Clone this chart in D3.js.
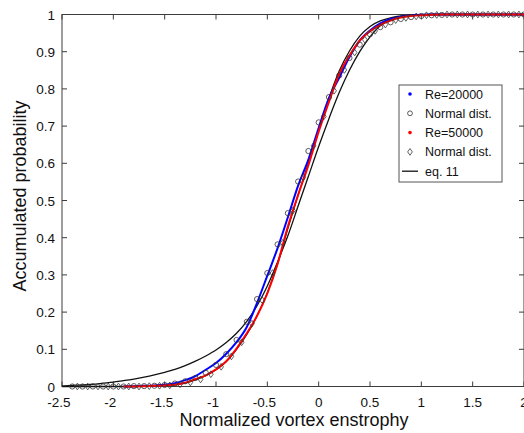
<!DOCTYPE html>
<html>
<head>
<meta charset="utf-8">
<script src="https://cdn.jsdelivr.net/npm/d3@7"></script>
<style>
  body { margin: 0; background: #fff; }
  svg { display: block; font-family: "Liberation Sans", Arial, sans-serif; }
</style>
</head>
<body>
<div id="chart"></div>
<script>
// axis ticks
var xTicks = [-2.5, -2, -1.5, -1, -0.5, 0, 0.5, 1, 1.5, 2];
var yTicks = [0, 0.1, 0.2, 0.3, 0.4, 0.5, 0.6, 0.7, 0.8, 0.9, 1];

// measured curves (Re=20000 blue, Re=50000 red)
var dataX = [-1.9, -1.8, -1.7, -1.6, -1.5, -1.4, -1.3, -1.2, -1.1, -1.0,
             -0.9, -0.8, -0.7, -0.6, -0.5, -0.4, -0.3, -0.2, -0.1, 0.0,
             0.1, 0.2, 0.3, 0.4, 0.5, 0.6, 0.7, 0.8, 0.9, 1.0,
             1.1, 1.2, 1.3, 1.4, 1.5, 1.6, 1.7, 1.8, 1.9, 2.0];
var re20000 = [0, 0.001, 0.002, 0.003, 0.005, 0.009, 0.017, 0.028, 0.045, 0.063,
               0.088, 0.119, 0.16, 0.225, 0.298, 0.372, 0.455, 0.54, 0.61, 0.695,
               0.775, 0.83, 0.886, 0.93, 0.957, 0.976, 0.988, 0.994, 0.997, 0.999,
               1, 1, 1, 1, 1, 1, 1, 1, 1, 1];
var re50000 = [0, 0, 0.001, 0.002, 0.003, 0.005, 0.01, 0.02, 0.03, 0.046,
               0.068, 0.102, 0.143, 0.19, 0.25, 0.33, 0.43, 0.515, 0.595, 0.685,
               0.765, 0.84, 0.89, 0.93, 0.955, 0.972, 0.984, 0.992, 0.996, 0.998,
               0.999, 1, 1, 1, 1, 1, 1, 1, 1, 1];

// normal distribution fits (circles for Re=20000, diamonds for Re=50000)
var circleX = [-2.4, -2.3, -2.2, -2.1, -2.0, -1.9, -1.8, -1.7, -1.6, -1.5,
               -1.4, -1.3, -1.2, -1.1, -1.0, -0.9, -0.8, -0.7, -0.6, -0.5,
               -0.4, -0.3, -0.2, -0.1, 0.0, 0.1, 0.2, 0.3, 0.4, 0.5,
               0.6, 0.7, 0.8, 0.9, 1.0, 1.1, 1.2, 1.3, 1.4, 1.5,
               1.6, 1.7, 1.8, 1.9, 2.0];
var circleY = [0, 0, 0, 0, 0, 0, 0.001, 0.001, 0.002, 0.004,
               0.008, 0.014, 0.023, 0.037, 0.058, 0.087, 0.125, 0.174, 0.235, 0.305,
               0.382, 0.466, 0.551, 0.633, 0.71, 0.778, 0.836, 0.883, 0.919, 0.947,
               0.966, 0.979, 0.988, 0.993, 0.996, 0.998, 0.999, 1, 1, 1,
               1, 1, 1, 1, 1];
var diamondX = [-2.35, -2.25, -2.15, -2.05, -1.95, -1.85, -1.75, -1.65, -1.55, -1.45,
                -1.35, -1.25, -1.15, -1.05, -0.95, -0.85, -0.75, -0.65, -0.55, -0.45,
                -0.35, -0.25, -0.15, -0.05, 0.05, 0.15, 0.25, 0.35, 0.45, 0.55,
                0.65, 0.75, 0.85, 0.95, 1.05, 1.15, 1.25, 1.35, 1.45, 1.55,
                1.65, 1.75, 1.85, 1.95];
var diamondY = [0, 0, 0, 0, 0, 0, 0, 0.001, 0.002, 0.003,
                0.006, 0.011, 0.019, 0.033, 0.053, 0.081, 0.119, 0.169, 0.232, 0.305,
                0.386, 0.473, 0.562, 0.647, 0.726, 0.795, 0.851, 0.898, 0.932, 0.956,
                0.973, 0.985, 0.991, 0.995, 0.998, 0.999, 1, 1, 1, 1,
                1, 1, 1, 1];

// eq. 11 curves
var eqX = [-2.5, -2.4, -2.3, -2.2, -2.1, -2.0, -1.9, -1.8, -1.7, -1.6,
           -1.5, -1.4, -1.3, -1.2, -1.1, -1.0, -0.9, -0.8, -0.7, -0.6,
           -0.5, -0.4, -0.3, -0.2, -0.1, 0.0, 0.1, 0.2, 0.3, 0.4,
           0.5, 0.6, 0.7, 0.8, 0.9, 1.0, 1.1, 1.2, 1.3, 1.4,
           1.5, 1.6, 1.7, 1.8, 1.9, 2.0];
var eqA = [0.001, 0.003, 0.004, 0.006, 0.009, 0.012, 0.016, 0.02, 0.025, 0.031,
           0.038, 0.046, 0.056, 0.068, 0.082, 0.098, 0.118, 0.143, 0.175, 0.217,
           0.27, 0.335, 0.405, 0.485, 0.565, 0.645, 0.72, 0.79, 0.85, 0.9,
           0.94, 0.97, 0.986, 0.994, 0.998, 0.9995, 1, 1, 1, 1,
           1, 1, 1, 1, 1, 1];
var eqB = [0, 0, 0, 0, 0, 0, 0, 0, 0.001, 0.002,
           0.003, 0.005, 0.01, 0.018, 0.029, 0.045, 0.067, 0.1, 0.14, 0.19,
           0.252, 0.33, 0.425, 0.515, 0.6, 0.69, 0.775, 0.848, 0.902, 0.942,
           0.968, 0.983, 0.991, 0.996, 0.998, 0.999, 1, 1, 1, 1,
           1, 1, 1, 1, 1, 1];

var legendItems = ['Re=20000', 'Normal dist.', 'Re=50000', 'Normal dist.', 'eq. 11'];

var width = 524, height = 433;
var axisColor = '#3c3c3c';

window.onload = function() {
    render();
};

function render() {
    var svg = d3.select('#chart').append('svg')
        .attr('width', width)
        .attr('height', height);

    var x = d3.scaleLinear().domain([-2.5, 2]).range([62, 524]);
    var y = d3.scaleLinear().domain([0, 1]).range([386.5, 14.5]);

    var line = d3.line()
        .x(function(d) { return x(d[0]); })
        .y(function(d) { return y(d[1]); })
        .curve(d3.curveMonotoneX);

    // box
    svg.append('rect')
        .attr('x', x(-2.5)).attr('y', y(1))
        .attr('width', x(2) - x(-2.5)).attr('height', y(0) - y(1))
        .attr('fill', 'none')
        .attr('stroke', axisColor)
        .attr('stroke-width', 1);

    // ticks, pointing inward on all four sides
    var t = 5;
    xTicks.forEach(function(v) {
        svg.append('line').attr('x1', x(v)).attr('x2', x(v))
            .attr('y1', y(0)).attr('y2', y(0) - t)
            .attr('stroke', axisColor);
        svg.append('line').attr('x1', x(v)).attr('x2', x(v))
            .attr('y1', y(1)).attr('y2', y(1) + t)
            .attr('stroke', axisColor);
        svg.append('text')
            .attr('x', x(v) - (v < 0 ? 3 : 0))
            .attr('y', 407)
            .attr('text-anchor', 'middle')
            .style('font-size', '13.5px')
            .attr('fill', '#111')
            .text(v);
    });
    yTicks.forEach(function(v) {
        svg.append('line').attr('x1', x(-2.5)).attr('x2', x(-2.5) + t)
            .attr('y1', y(v)).attr('y2', y(v))
            .attr('stroke', axisColor);
        svg.append('line').attr('x1', x(2)).attr('x2', x(2) - t)
            .attr('y1', y(v)).attr('y2', y(v))
            .attr('stroke', axisColor);
        svg.append('text')
            .attr('x', 55)
            .attr('y', y(v) + 5)
            .attr('text-anchor', 'end')
            .style('font-size', '13.5px')
            .attr('fill', '#111')
            .text(v);
    });

    // axis titles
    svg.append('text')
        .attr('x', 294).attr('y', 426)
        .attr('text-anchor', 'middle')
        .style('font-size', '18px')
        .attr('fill', '#111')
        .text('Normalized vortex enstrophy');
    svg.append('text')
        .attr('transform', 'translate(26,196) rotate(-90)')
        .attr('text-anchor', 'middle')
        .style('font-size', '18px')
        .attr('fill', '#111')
        .text('Accumulated probability');

    var plot = svg.append('g');

    // eq. 11 lines underneath
    plot.append('path')
        .attr('d', line(d3.zip(eqX, eqB)))
        .attr('fill', 'none').attr('stroke', '#111').attr('stroke-width', 1.3);
    plot.append('path')
        .attr('d', line(d3.zip(eqX, eqA)))
        .attr('fill', 'none').attr('stroke', '#111').attr('stroke-width', 1.3);

    // measured curves
    plot.append('path')
        .attr('d', line(d3.zip(dataX, re20000)))
        .attr('fill', 'none').attr('stroke', '#0000ff').attr('stroke-width', 2);
    plot.append('path')
        .attr('d', line(d3.zip(dataX, re50000)))
        .attr('fill', 'none').attr('stroke', '#ff0000').attr('stroke-width', 2);

    // normal distribution markers
    plot.selectAll('.circ')
        .data(d3.zip(circleX, circleY))
        .enter().append('circle')
        .attr('cx', function(d) { return x(d[0]); })
        .attr('cy', function(d) { return y(d[1]); })
        .attr('r', 2.6)
        .attr('fill', 'none')
        .attr('stroke', '#333')
        .attr('stroke-width', 0.8);
    var diamond = d3.symbol().type(d3.symbolDiamond2).size(22);
    plot.selectAll('.diam')
        .data(d3.zip(diamondX, diamondY))
        .enter().append('path')
        .attr('transform', function(d) { return 'translate(' + x(d[0]) + ',' + y(d[1]) + ') scale(0.8,1.15)'; })
        .attr('d', diamond)
        .attr('fill', 'none')
        .attr('stroke', '#333')
        .attr('stroke-width', 0.8);

    makeLegend(svg);
}

function makeLegend(svg) {
    var lx = 399, ly = 85, lw = 103, lh = 97;
    var g = svg.append('g');
    g.append('rect')
        .attr('x', lx).attr('y', ly)
        .attr('width', lw).attr('height', lh)
        .attr('fill', '#fff')
        .attr('stroke', '#555')
        .attr('stroke-width', 1);

    for (var i = 0; i < legendItems.length; i++) {
        var cy = 94 + i * 19.3;
        if (i == 0 || i == 2) {
            g.append('circle').attr('cx', 410).attr('cy', cy).attr('r', 1.8)
                .attr('fill', i == 0 ? '#0000ff' : '#ff0000');
        } else if (i == 1) {
            g.append('circle').attr('cx', 410).attr('cy', cy).attr('r', 2.4)
                .attr('fill', 'none').attr('stroke', '#333').attr('stroke-width', 0.8);
        } else if (i == 3) {
            g.append('path')
                .attr('transform', 'translate(410,' + cy + ') scale(0.8,1.15)')
                .attr('d', d3.symbol().type(d3.symbolDiamond2).size(22))
                .attr('fill', 'none').attr('stroke', '#333').attr('stroke-width', 0.8);
        } else {
            g.append('line').attr('x1', 402).attr('x2', 418)
                .attr('y1', cy).attr('y2', cy)
                .attr('stroke', '#111').attr('stroke-width', 1.3);
        }
        g.append('text')
            .attr('x', 425).attr('y', cy + 4.5)
            .style('font-size', '12.5px')
            .attr('fill', '#111')
            .text(legendItems[i]);
    }
}
</script>
</body>
</html>
